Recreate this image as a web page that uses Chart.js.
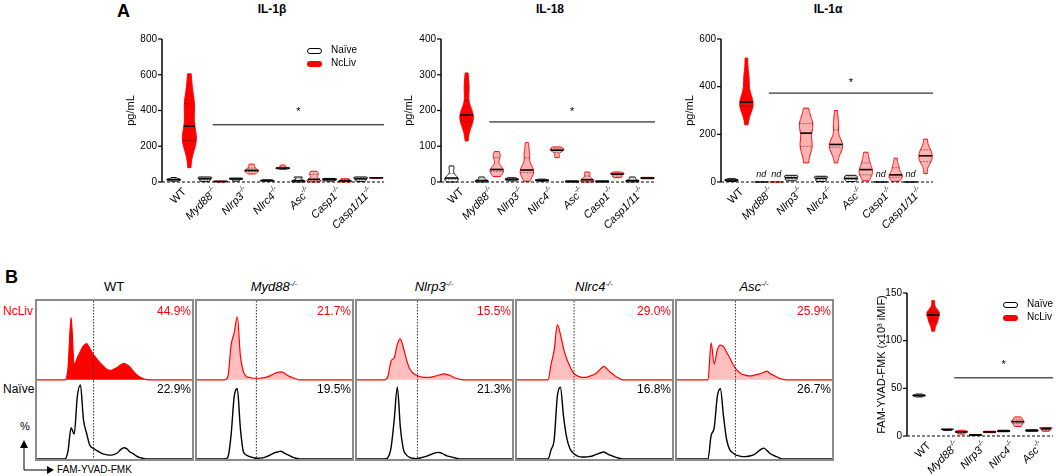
<!DOCTYPE html>
<html>
<head>
<meta charset="utf-8">
<script src="https://cdn.jsdelivr.net/npm/chart.js@4.4.0/dist/chart.umd.min.js"></script>
<style>
body{margin:0;width:1056px;height:476px;position:relative;background:#fff;overflow:hidden;font-family:Arial,"Liberation Sans",sans-serif;color:#000}
.abs{position:absolute;white-space:nowrap}
canvas{position:absolute;display:block}
.letter{font-weight:bold;font-size:18px}
.title{font-weight:bold;font-size:12px;transform:translateX(-50%)}
.leg{font-size:10px;line-height:13px}
.box{display:inline-block;width:15px;height:6px;border-radius:3px;margin-right:9px;vertical-align:-1px;box-sizing:border-box}
.box.n{border:1.2px solid #000;background:#fff}
.box.r{background:#f00}
.frame{position:absolute;box-sizing:border-box;border:2px solid #8a8a8a;width:159px;height:162px;top:299px}
.head{font-size:13px;transform:translateX(-50%);top:279px}
.pct{font-size:12px;text-align:right}
sup{font-size:8px;vertical-align:5px;line-height:0}
</style>
</head>
<body>

<div class="abs letter" style="left:117px;top:1px">A</div>
<div class="abs letter" style="left:5px;top:267px">B</div>
<div class="abs title" style="left:272px;top:2px">IL-1β</div>
<div class="abs title" style="left:550px;top:2px">IL-18</div>
<div class="abs title" style="left:828px;top:2px">IL-1α</div>

<canvas id="il1b" width="280" height="240" style="left:108px;top:0"></canvas>
<canvas id="il18" width="272" height="240" style="left:387px;top:0"></canvas>
<canvas id="il1a" width="270" height="240" style="left:667px;top:0"></canvas>
<canvas id="fym" width="204" height="240" style="left:853px;top:250px"></canvas>

<div class="abs leg" style="left:307px;top:43px"><span class="box n"></span>Naïve<br><span class="box r"></span>NcLiv</div>
<div class="abs leg" style="left:1003px;top:297px"><span class="box n"></span>Naïve<br><span class="box r"></span>NcLiv</div>

<div class="abs" style="left:3px;top:304px;font-size:12px;color:#f00">NcLiv</div>
<div class="abs" style="left:3px;top:382px;font-size:12px">Naïve</div>
<div class="abs" style="left:20px;top:420px;font-size:11px;color:#000">%</div>
<div class="abs" style="left:57px;top:464px;font-size:10px">FAM-YVAD-FMK</div>
<svg class="abs" style="left:0;top:430px" width="60" height="46">
  <line x1="24" y1="40" x2="24" y2="16" stroke="#000" stroke-width="1"/>
  <polygon points="20,18 28,18 24,10" fill="#000"/>
  <line x1="24" y1="40" x2="48" y2="40" stroke="#000" stroke-width="1"/>
  <polygon points="47,36 47,44 54,40" fill="#000"/>
</svg>

<div id="panels"></div>

<script>
// ---- panel A data (pg/mL, one list of estimated mouse values per group) ----
const genesA = ['WT', 'Myd88', 'Nlrp3', 'Nlrc4', 'Asc', 'Casp1', 'Casp1/11'];

const il1bNaive = [[5,10,12,15,18,25],[2,8,15,20,25,28],[5,10,15,18,20,22],[5,7,8,10,12],[0,2,5,10,25,28],[5,10,12,15,18,20],[2,8,15,20,25,28]];
const il1bNcliv = [[80,215,228,232,238,250,312,360,420,437,445,520,605],[0,2,3,4,5],[45,55,62,65,70,85,100],[70,75,77,78,80,88,95],[0,5,10,15,40,45,60],[0,2,5,8,15,18],[21,23,24,25]];

const il18Naive = [[0,3,8,10,12,20,35,45],[0,2,3,5,10,14],[3,5,7,8,10,12],[2,4,5,6,8],[0,1,2,3],[0,1,2,3],[0,2,3,5,10,14]];
const il18Ncliv = [[115,160,165,175,185,187,190,200,255,265,305],[15,25,30,33,35,40,68,72,85],[2,15,25,30,32,35,45,75,80,110],[68,75,85,88,90,92,95,98],[0,2,4,5,8,15,22,28],[12,15,18,22,23,25,28],[9,10,11,12,13]];

const il1aNaive = [[2,5,8,10,14],[0],[5,10,15,20,25,28],[2,8,15,20,24],[2,10,15,22,28],[0],[0]];
const il1aNcliv = [[240,300,315,320,330,335,345,380,430,445,520],[0],[80,140,150,160,205,240,245,250,310],[80,130,145,150,155,160,170,235,245,300],[5,25,30,45,52,60,80,95,125],[3,15,20,28,30,40,60,70,100],[35,80,85,100,110,115,135,140,180]];
const il1aNdNaive = [false,true,false,false,false,true,true];
const il1aNdNcliv = [false,true,false,false,false,false,false];

// ---- panel B summary (x10^3 iMIF) ----
const genesB = ['WT', 'Myd88', 'Nlrp3', 'Nlrc4', 'Asc'];
const fymNaive = [[41,42,42.5,43,44],[6,6.5,7,7.2],[0.5,1,1.2,1.5],[4.5,5,5.5,6],[5,5.5,6,6.5]];
const fymNcliv = [[110,118,120,122,126,128,129,130,132,142],[2,3,4,4.5,5,6],[3.5,4,4.5,5],[10,12,14,15,16,18,20],[5,6,7,8,8.5,9]];

// ---- panel B histograms (% of max, read per bin) ----
const histX = [0,16,18,20,22,24,26,28,30,32,34,36,38,40,42,44,46,48,50,52,54,56,58,60,62,64,66,68,70,72,100];
const wtNcliv    = [0,0,0,15,79,19,28,36,43,46,40,33,28,23,19,15,12.5,12,14,16,19,21,19,16,11,7,4,2,0.5,0,0];
const wtNaive    = [0,0,0,10,40,32,80,95,50,33,18,14,11.5,9,7,6,5,5,6,8,12,14.5,13,9,7,4,2,1,0,0,0];
const myd88Ncliv = [0,0,0,5,44,60,80,30,10,4,3,2,2,2,2.5,3,4,6,8,9.5,10,9,6,4,2.5,1,0,0,0,0,0];
const myd88Naive = [0,0,0,3,31,80,90,39,9,5,3,2,1,1,1.5,2.5,4,6,8,9,10,8,6,4,2,1,0,0,0,0,0];
const nlrp3Ncliv = [0,0,0,5,24,28,45,52,40,25,14,9,6,4.5,3.5,3,3,3.5,4.5,5.5,6.5,7.5,7,5.5,3.5,2,1,0,0,0,0];
const nlrp3Naive = [0,0,0,2,15,50,92,40,12,5,2,1,0.5,1,2,3,4.5,6,7.5,8.5,8,6,4,3,2,1,0,0,0,0,0];
const nlrc4Ncliv = [0,0,0,0,20,38,70,58,40,27,18,10,6,4,3,3,4,5.5,7,10,14,17,14,10,7,4,2,0,0,0,0];
const nlrc4Naive = [0,0,0,0,12,25,80,92,55,28,14,8,5,3,2.5,2.5,3,3.5,5,6.5,8,9,7,5,3.5,2,1,0,0,0,0];
const ascNcliv   = [0,0,0,0,47,20,38,44,42,35,28,20,14,10,7,6,5,5,6,7,8,9.5,11,8,6,4,2,1,0,0,0];
const ascNaive   = [0,0,0,0,30,40,80,90,55,25,12,8,5,4,3,3,3.5,4.5,6,9,12,14,11,7,5,3,1.5,0,0,0,0];
const histNcliv = [wtNcliv, myd88Ncliv, nlrp3Ncliv, nlrc4Ncliv, ascNcliv];
const histNaive = [wtNaive, myd88Naive, nlrp3Naive, nlrc4Naive, ascNaive];
const gateX = [36.5, 38.3, 39, 36.8, 37.7];
const pctNcliv = ['44.9%','21.7%','15.5%','29.0%','25.9%'];
const pctNaive = ['22.9%','19.5%','21.3%','16.8%','26.7%'];

const FONT = 'Arial, "Liberation Sans", sans-serif';
Chart.defaults.font.family = FONT;
Chart.defaults.animation = false;
Chart.defaults.plugins.legend.display = false;
Chart.defaults.plugins.tooltip.enabled = false;

function quantile(s, q){
  const p = (s.length-1)*q, i = Math.floor(p), f = p-i;
  return s[i] + (s[Math.min(i+1, s.length-1)] - s[i])*f;
}

function density(s, lo, hi){
  const n = s.length, mean = s.reduce((a,b)=>a+b,0)/n;
  const sd = Math.sqrt(s.reduce((a,b)=>a+(b-mean)*(b-mean),0)/n);
  const h = Math.max(0.7*1.06*sd*Math.pow(n,-0.2), (hi-lo)*0.04);
  const pts = [];
  for(let k=0;k<=48;k++){
    const v = lo + (hi-lo)*k/48;
    let d = 0;
    s.forEach(x=>{ const u=(v-x)/h; d += Math.exp(-0.5*u*u); });
    pts.push([v,d]);
  }
  const m = Math.max(...pts.map(p=>p[1]));
  pts.forEach(p=>p[1]/=m);
  return pts;
}

const violinPlugin = {
  id: 'violins',
  afterDatasetsDraw(chart){
    const ctx = chart.ctx, ys = chart.scales.y;
    chart.data.datasets.forEach((ds, di) => {
      chart.getDatasetMeta(di).data.forEach((el, i) => {
        const s = ds.samples[i].slice().sort((a,b)=>a-b);
        const cx = el.x, half = el.width*0.45;
        const lo = s[0], hi = s[s.length-1];
        ctx.save();
        ctx.strokeStyle = ds.lineColor;
        if (hi - lo < 1e-9){
          const y = ys.getPixelForValue(lo);
          ctx.lineWidth = 1.5;
          ctx.beginPath(); ctx.moveTo(cx-half, y); ctx.lineTo(cx+half, y); ctx.stroke();
        } else {
          const pts = density(s, lo, hi);
          ctx.lineWidth = 1;
          ctx.beginPath();
          pts.forEach(([v,d],k)=>{
            const x = cx - d*half, y = ys.getPixelForValue(v);
            if (k) ctx.lineTo(x,y); else ctx.moveTo(x,y);
          });
          for(let k=pts.length-1;k>=0;k--) ctx.lineTo(cx + pts[k][1]*half, ys.getPixelForValue(pts[k][0]));
          ctx.closePath();
          ctx.fillStyle = (ds.solid && ds.solid[i]) ? ds.lineColor : ds.fillColor;
          ctx.fill(); ctx.stroke();
          const wAt = v => {
            const t = (v-lo)/(hi-lo)*48, k = Math.min(47, Math.floor(t)), f = t-k;
            return (pts[k][1]*(1-f) + pts[k+1][1]*f)*half;
          };
          ctx.strokeStyle = 'rgba(0,0,0,0.55)';
          ctx.lineWidth = 0.8;
          ctx.setLineDash([2,1]);
          [0.25, 0.75].forEach(q=>{
            const v = quantile(s,q), w = wAt(v), y = ys.getPixelForValue(v);
            ctx.beginPath(); ctx.moveTo(cx-w, y); ctx.lineTo(cx+w, y); ctx.stroke();
          });
          ctx.setLineDash([]);
          const md = quantile(s,0.5), wm = Math.max(wAt(md), 3), ym = ys.getPixelForValue(md);
          ctx.strokeStyle = '#000'; ctx.lineWidth = 1.6;
          ctx.beginPath(); ctx.moveTo(cx-wm, ym); ctx.lineTo(cx+wm, ym); ctx.stroke();
        }
        if (ds.nd && ds.nd[i]){
          ctx.fillStyle = '#000';
          ctx.font = 'italic 9px ' + FONT;
          ctx.textAlign = 'center'; ctx.textBaseline = 'alphabetic';
          ctx.fillText('nd', cx, ys.getPixelForValue(0) - 5);
        }
        ctx.restore();
      });
    });
  }
};

const decoPlugin = {
  id: 'deco',
  afterDraw(chart, args, o){
    const ctx = chart.ctx, a = chart.chartArea, xs = chart.scales.x, ys = chart.scales.y;
    const ax = a.left - o.off;
    ctx.save();
    ctx.strokeStyle = '#000'; ctx.fillStyle = '#000';
    // y axis line and tick marks
    ctx.lineWidth = 1.5;
    ctx.beginPath(); ctx.moveTo(ax, a.top); ctx.lineTo(ax, a.bottom); ctx.stroke();
    ctx.lineWidth = 1.2;
    ys.ticks.forEach(t=>{
      const y = ys.getPixelForValue(t.value);
      ctx.beginPath(); ctx.moveTo(ax-4, y); ctx.lineTo(ax, y); ctx.stroke();
    });
    // dashed zero line
    ctx.lineWidth = 1.2;
    ctx.setLineDash([3,2]);
    const y0 = ys.getPixelForValue(0);
    ctx.beginPath(); ctx.moveTo(ax, y0); ctx.lineTo(a.right, y0); ctx.stroke();
    ctx.setLineDash([]);
    // significance bar and star
    const yS = ys.getPixelForValue(o.sigY), xS = xs.getPixelForValue(1);
    ctx.lineWidth = 1;
    ctx.beginPath(); ctx.moveTo(xS, yS); ctx.lineTo(a.right, yS); ctx.stroke();
    ctx.font = '11px ' + FONT; ctx.textAlign = 'center'; ctx.textBaseline = 'middle';
    ctx.fillText('*', (xS + a.right)/2, ys.getPixelForValue(o.starY));
    // y title
    ctx.save();
    ctx.translate(ax - o.titleGap, (a.top + a.bottom)/2);
    ctx.rotate(-Math.PI/2);
    ctx.font = o.titleSize + 'px ' + FONT;
    ctx.fillText(o.yTitle, 0, 0);
    ctx.restore();
    // rotated category labels, gene names italic with -/- superscript
    chart.data.labels.forEach((g, i) => {
      ctx.save();
      ctx.translate(xs.getPixelForValue(i) + 3, a.bottom + 8);
      ctx.rotate(-Math.PI/4);
      ctx.textBaseline = 'middle';
      if (g === 'WT'){
        ctx.font = '11px ' + FONT; ctx.textAlign = 'right'; ctx.fillText(g, 0, 0);
      } else {
        ctx.font = 'italic 11px ' + FONT; const wb = ctx.measureText(g).width;
        ctx.font = 'italic 7px ' + FONT; const ws = ctx.measureText('-/-').width;
        ctx.textAlign = 'left';
        ctx.fillText('-/-', -ws, -4);
        ctx.font = 'italic 11px ' + FONT;
        ctx.fillText(g, -ws - wb, 0);
      }
      ctx.restore();
    });
    ctx.restore();
  }
};

const range = s => [Math.min(...s), Math.max(...s)];

function violinChart(id, o){
  return new Chart(document.getElementById(id), {
    type: 'bar',
    data: {
      labels: o.labels,
      datasets: [
        { label: 'Naïve', data: o.naive.map(range), samples: o.naive, nd: o.ndNaive,
          lineColor: '#000', fillColor: '#fff', backgroundColor: 'rgba(0,0,0,0)', borderWidth: 0,
          categoryPercentage: 1, barPercentage: 1 },
        { label: 'NcLiv', data: o.ncliv.map(range), samples: o.ncliv, nd: o.ndNcliv,
          solid: o.labels.map((l, i) => i === 0),
          lineColor: '#ff0000', fillColor: 'rgba(255,0,0,0.3)', backgroundColor: 'rgba(0,0,0,0)', borderWidth: 0,
          categoryPercentage: 1, barPercentage: 1 }
      ]
    },
    options: {
      responsive: false,
      layout: { padding: { top: o.top, bottom: o.bottom, right: 4, left: 0 } },
      scales: {
        x: { display: false },
        y: {
          min: 0, max: o.max,
          ticks: { stepSize: o.step, color: '#000', font: { size: 10 }, padding: o.off + 1 },
          grid: { color: 'rgba(0,0,0,0)', tickLength: 4 },
          border: { display: false },
          afterFit(s){ s.width = 54 + o.off; }
        }
      },
      plugins: { deco: { off: o.off, sigY: o.sigY, starY: o.starY, yTitle: o.yTitle, titleGap: o.titleGap, titleSize: o.titleSize } }
    },
    plugins: [violinPlugin, decoPlugin]
  });
}

violinChart('il1b', { labels: genesA, naive: il1bNaive, ncliv: il1bNcliv, max: 800, step: 200,
  top: 39, bottom: 58, off: 4, sigY: 320, starY: 392, yTitle: 'pg/mL', titleGap: 31, titleSize: 11 });
violinChart('il18', { labels: genesA, naive: il18Naive, ncliv: il18Ncliv, max: 400, step: 100,
  top: 39, bottom: 58, off: 3, sigY: 168, starY: 196, yTitle: 'pg/mL', titleGap: 32, titleSize: 11 });
violinChart('il1a', { labels: genesA, naive: il1aNaive, ncliv: il1aNcliv, ndNaive: il1aNdNaive, ndNcliv: il1aNdNcliv,
  max: 600, step: 200, top: 39, bottom: 58, off: 3, sigY: 373, starY: 415, yTitle: 'pg/mL', titleGap: 31, titleSize: 11 });
violinChart('fym', { labels: genesB, naive: fymNaive, ncliv: fymNcliv, max: 150, step: 50,
  top: 43, bottom: 54, off: 5, sigY: 61, starY: 74, yTitle: 'FAM-YVAD-FMK (x10³ iMIF)', titleGap: 25, titleSize: 11 });

// ---- histogram panels ----
const gatePlugin = {
  id: 'gate',
  afterDatasetsDraw(chart, args, o){
    const ctx = chart.ctx, x = chart.scales.x.getPixelForValue(o.x);
    ctx.save();
    ctx.strokeStyle = '#333'; ctx.lineWidth = 1; ctx.setLineDash([1.5,1.5]);
    ctx.beginPath(); ctx.moveTo(x, 0); ctx.lineTo(x, chart.height); ctx.stroke();
    ctx.restore();
  }
};

function histChart(cv, vals, line, fill, gate, yMin, lw){
  return new Chart(cv, {
    type: 'line',
    data: { datasets: [{
      data: histX.map((x, k) => ({ x: x, y: vals[k] })),
      borderColor: line, borderWidth: lw, backgroundColor: fill || 'rgba(0,0,0,0)',
      fill: fill ? 'origin' : false, pointRadius: 0, cubicInterpolationMode: 'monotone'
    }] },
    options: {
      responsive: false,
      layout: { padding: 0 },
      scales: {
        x: { type: 'linear', min: 0, max: 100, display: false },
        y: { min: yMin, max: 100, display: false }
      },
      plugins: { gate: { x: gate } }
    },
    plugins: [gatePlugin]
  });
}

const host = document.getElementById('panels');
genesB.forEach((g, i) => {
  const left = 35 + 160*i;
  const head = document.createElement('div');
  head.className = 'abs head';
  head.style.left = (left + 79) + 'px';
  head.innerHTML = g === 'WT' ? 'WT' : '<i>' + g + '<sup>-/-</sup></i>';
  host.appendChild(head);

  const fr = document.createElement('div');
  fr.className = 'frame';
  fr.style.left = left + 'px';
  const top = document.createElement('canvas');
  top.width = 155; top.height = 80; top.style.left = '0px'; top.style.top = '0px';
  const bot = document.createElement('canvas');
  bot.width = 155; bot.height = 78; bot.style.left = '0px'; bot.style.top = '80px';
  fr.appendChild(top); fr.appendChild(bot);
  host.appendChild(fr);

  const p1 = document.createElement('div');
  p1.className = 'abs pct';
  p1.style.cssText = 'left:' + (left + 102) + 'px;width:54px;top:304px;color:#f00';
  p1.textContent = pctNcliv[i];
  host.appendChild(p1);
  const p2 = document.createElement('div');
  p2.className = 'abs pct';
  p2.style.cssText = 'left:' + (left + 102) + 'px;width:54px;top:382px';
  p2.textContent = pctNaive[i];
  host.appendChild(p2);

  histChart(top, histNcliv[i], '#ff0000', i === 0 ? '#ff0000' : 'rgba(255,0,0,0.25)', gateX[i], -1.5, 1.2);
  histChart(bot, histNaive[i], '#000', null, gateX[i], 0, 1.4);
});
</script>
</body>
</html>
